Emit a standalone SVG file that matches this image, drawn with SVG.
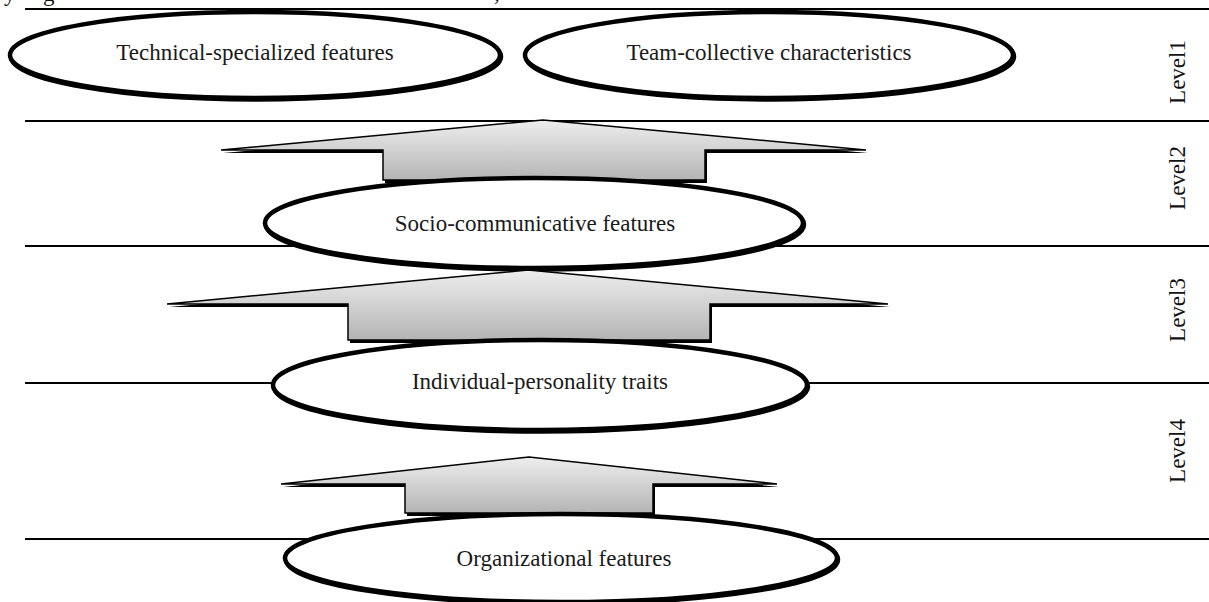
<svg xmlns="http://www.w3.org/2000/svg" width="1209" height="602" viewBox="0 0 1209 602">
<defs>
<linearGradient id="g" x1="0" y1="0" x2="0" y2="1">
<stop offset="0" stop-color="#eeeeee"/>
<stop offset="1" stop-color="#b4b4b4"/>
</linearGradient>
<style>
.sep{stroke:#000;stroke-width:2;fill:none}
.oval{fill:#fff;stroke:#000;stroke-width:4.5}
.osh{fill:none;stroke:#000;stroke-width:4.5}
.lbl{font-family:"Liberation Serif","Times New Roman",serif;font-size:23px;fill:#1a1a1a;text-anchor:middle}
.lvl{font-family:"Liberation Serif","Times New Roman",serif;font-size:23px;fill:#111;text-anchor:middle}
.frag{font-family:"Liberation Serif","Times New Roman",serif;font-size:23px;fill:#111}
.arr{fill:url(#g);stroke:#000;stroke-width:1.5;stroke-linejoin:miter}
.sh{fill:#000}
</style>
</defs>
<rect width="1209" height="602" fill="#fff"/>
<text class="frag" x="4" y="1">y</text>
<text class="frag" x="43" y="1">g</text>
<text class="frag" x="494" y="0">,</text>
<g id="levels">
<line class="sep" x1="25" y1="9" x2="1209" y2="9"/>
<line class="sep" x1="25" y1="121" x2="1209" y2="121"/>
<line class="sep" x1="25" y1="246" x2="1209" y2="246"/>
<line class="sep" x1="25" y1="383" x2="1209" y2="383"/>
<line class="sep" x1="25" y1="539" x2="1209" y2="539"/>
<text class="lvl" transform="translate(1185,72) rotate(-90)">Level1</text>
<text class="lvl" transform="translate(1185,178) rotate(-90)">Level2</text>
<text class="lvl" transform="translate(1185,310) rotate(-90)">Level3</text>
<text class="lvl" transform="translate(1185,451) rotate(-90)">Level4</text>
</g>
<g id="connectors">
<g id="arrow1">
<polygon class="sh" transform="translate(2,3)" points="543,120 221,150 383,150 383,180 705,180 705,150 866,150"/>
<polygon class="arr" points="543,120 221,150 383,150 383,180 705,180 705,150 866,150"/>
</g>
</g>
<g id="technical">
<ellipse class="osh" cx="256" cy="56.5" rx="245" ry="43"/>
<ellipse class="oval" cx="255" cy="55" rx="245" ry="43"/>
<text class="lbl" x="255" y="60">Technical-specialized features</text>
</g>
<g id="team">
<ellipse class="osh" cx="770" cy="56.5" rx="244" ry="43"/>
<ellipse class="oval" cx="769" cy="55" rx="244" ry="43"/>
<text class="lbl" x="769" y="60">Team-collective characteristics</text>
</g>
<g id="socio">
<ellipse class="osh" cx="535" cy="224.5" rx="269" ry="45"/>
<ellipse class="oval" cx="534" cy="223" rx="269" ry="45"/>
<text class="lbl" x="535" y="231">Socio-communicative features</text>
</g>
<g id="connectors2">
<g id="arrow2">
<polygon class="sh" transform="translate(2,3)" points="528,270 167,304 348,304 348,340 710,340 710,304 888,304"/>
<polygon class="arr" points="528,270 167,304 348,304 348,340 710,340 710,304 888,304"/>
</g>
</g>
<g id="individual">
<ellipse class="osh" cx="541" cy="386.5" rx="267" ry="45"/>
<ellipse class="oval" cx="540" cy="385" rx="267" ry="45"/>
<text class="lbl" x="540" y="389">Individual-personality traits</text>
</g>
<g id="connectors3">
<g id="arrow3">
<polygon class="sh" transform="translate(2,3)" points="529,457 281,484 405,484 405,513 653,513 653,484 777,484"/>
<polygon class="arr" points="529,457 281,484 405,484 405,513 653,513 653,484 777,484"/>
</g>
</g>
<g id="organizational">
<ellipse class="osh" cx="562" cy="559.5" rx="276" ry="44"/>
<ellipse class="oval" cx="561" cy="558" rx="276" ry="44"/>
<text class="lbl" x="564" y="566">Organizational features</text>
</g>
</svg>
